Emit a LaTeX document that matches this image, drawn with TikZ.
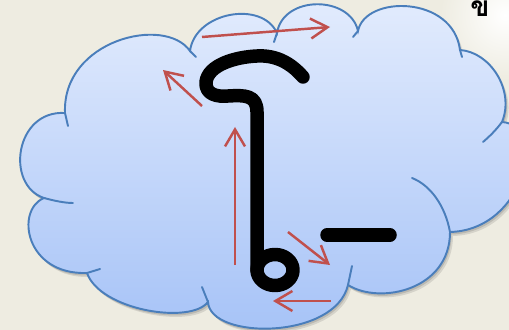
\documentclass[tikz,border=0pt]{standalone}
\usepackage{fontspec}
\usepackage{tikz}
\usetikzlibrary{arrows.meta}
\newfontfamily\thaifont[Script=Thai]{Loma}
\definecolor{bgtan}{HTML}{EEECE1}
\definecolor{cloudtop}{HTML}{E3ECFD}
\definecolor{cloudbot}{HTML}{A5C2F7}
\definecolor{cloudedge}{HTML}{4A7EBB}
\definecolor{guidered}{HTML}{C0504D}
\newcommand{\cloudoutline}{(65,113)
  .. controls (62,40) and (165,15) .. (190,51)
  .. controls (195,12) and (262,0) .. (277,33)
  .. controls (283,-5) and (350,-5) .. (358,31)
  .. controls (365,-5) and (453,-5) .. (460,50)
  .. controls (490,52) and (515,90) .. (502,122)
  .. controls (548,125) and (525,230) .. (450,232)
  .. controls (450,290) and (380,305) .. (348,285)
  .. controls (335,340) and (210,340) .. (208,302)
  .. controls (190,325) and (100,310) .. (87,273)
  .. controls (25,275) and (15,210) .. (44,198)
  .. controls (5,185) and (15,110) .. (65,113) -- cycle}

\begin{document}
\begin{tikzpicture}[x=0.02cm, y=-0.02cm,
    edge/.style={draw=cloudedge, line width=1.1pt, line cap=round},
    guide/.style={draw=guidered, line width=1.4pt, -{Straight Barb[length=0.34cm, width=0.4cm]}},
    pen/.style={draw=black, line width=0.27cm, line cap=round, line join=round}]
    \useasboundingbox (0,0) rectangle (509,330);
    \clip (0,0) rectangle (509,330);

    % Background with light corner
    \fill[bgtan] (0,0) rectangle (509,330);
    \shade[inner color=white, outer color=bgtan] (505,15) circle[radius=65];

    % Cloud: soft shadow, gradient body, outline
    \fill[black, opacity=0.10, transform canvas={shift={(3,4)}}] \cloudoutline;
    \fill[black, opacity=0.12, transform canvas={shift={(1.5,2.5)}}] \cloudoutline;
    \shadedraw[top color=cloudtop, bottom color=cloudbot, draw=cloudedge, line width=1.1pt] \cloudoutline;

    % Inner ends of the lobes
    \draw[edge] (65,113) -- (68,126);
    \draw[edge] (190,51) -- (196,57);
    \draw[edge] (277,33) -- (274,42);
    \draw[edge] (358,31) -- (353,37);
    \draw[edge] (460,50) -- (462,57);
    \draw[edge] (502,122) .. controls (496,130) and (490,136) .. (483,142);
    \draw[edge] (450,232) .. controls (445,205) and (430,185) .. (412,178);
    \draw[edge] (348,285) -- (352,266);
    \draw[edge] (208,302) -- (202,287);
    \draw[edge] (87,273) -- (100,269);
    \draw[edge] (44,198) .. controls (55,201) and (65,203) .. (73,203);

    % Stroke order guides
    \coordinate (topS) at (202,37);    \coordinate (topE) at (330,27);
    \coordinate (hookS) at (202,106);  \coordinate (hookE) at (163,70);
    \coordinate (stemS) at (235,265);  \coordinate (stemE) at (235,127);
    \coordinate (dashS) at (288,232);  \coordinate (dashE) at (330,265);
    \coordinate (loopS) at (331,301);  \coordinate (loopE) at (273,301);
    \draw[guide] (topS) -- (topE);
    \draw[guide] (hookS) -- (hookE);
    \draw[guide] (stemS) -- (stemE);
    \draw[guide] (dashS) -- (dashE);
    \draw[guide] (loopS) -- (loopE);

    % The letter
    \draw[pen] (303,77) .. controls (290,62) and (275,55) .. (257,56)
        .. controls (235,57) and (208,65) .. (206,82)
        .. controls (205,95) and (218,97) .. (228,96)
        .. controls (245,95) and (257,95) .. (257,112) -- (257,270);
    \draw[pen] (275,270) ellipse[x radius=18, y radius=15.5];
    \draw[pen] (327,235) -- (390,235);

    % Corner label
    \node (kho) at (480,9) {\thaifont\bfseries\fontsize{16}{16}\selectfont ข};
\end{tikzpicture}
\end{document}
